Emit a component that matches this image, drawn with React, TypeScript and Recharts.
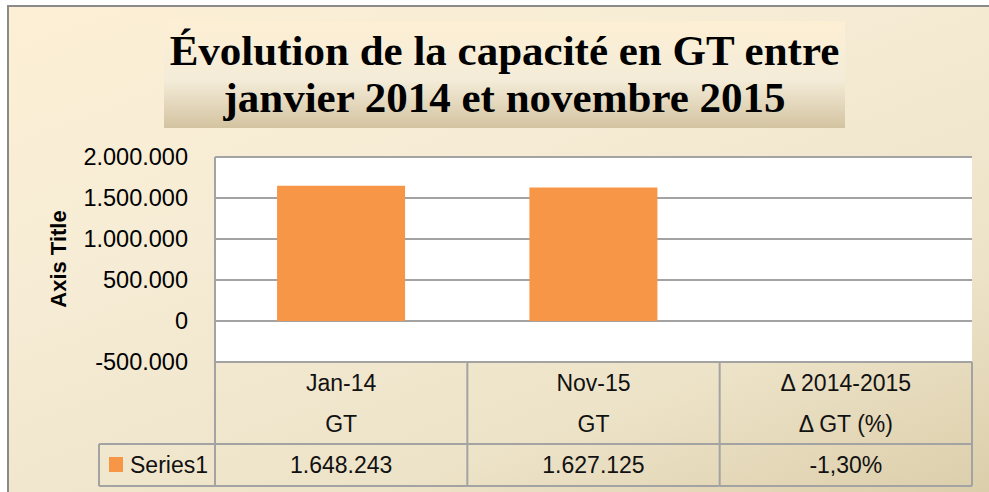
import { Bar, BarChart, CartesianGrid, Customized, XAxis, YAxis } from "recharts";

// chart values
const categories = ["Jan-14", "Nov-15", "Δ 2014-2015"];
const units = ["GT", "GT", "Δ GT (%)"];
const series1 = [1648243, 1627125, -0.013];
const yTicks = [-500000, 0, 500000, 1000000, 1500000, 2000000];
const seriesName = "Series1";
const axisTitle = "Axis Title";
const titleLines = ["Évolution de la capacité en GT entre", "janvier 2014 et novembre 2015"];

const data = categories.map((name, i) => ({ name, value: series1[i] }));

const W = 989;
const H = 492;
const M = { top: 157, right: 17, bottom: 6, left: 0 };
const Y_AXIS_W = 215;
const X_AXIS_H = 124;
const PLOT_W = W - M.left - M.right - Y_AXIS_W;
const TABLE_TOP = H - M.bottom - X_AXIS_H;
const ROW_MID = 444;
const TABLE_BOTTOM = 486;
const LEGEND_LEFT = 99;

const GRID = "#a3a3a3";
const ORANGE = "#F79646";
const FONT = "'Liberation Sans', Arial, sans-serif";
const FS = 23;

const dots = (n: number) => Math.round(n).toString().replace(/\B(?=(\d{3})+(?!\d))/g, ".");

const cellText = (i: number) =>
  units[i].includes("%")
    ? (series1[i] * 100).toFixed(2).replace(".", ",") + "%"
    : dots(series1[i]);

function TableTick(props: any) {
  const { x, payload } = props;
  const i = categories.indexOf(payload.value);
  const half = PLOT_W / categories.length / 2;
  const l = x - half;
  const r = x + half;
  const txt = { fontFamily: FONT, fontSize: FS, fill: "#111", textAnchor: "middle" as const, dominantBaseline: "central" as const };
  return (
    <g>
      <line x1={l} x2={r} y1={TABLE_TOP} y2={TABLE_TOP} stroke={GRID} strokeWidth={2} />
      <line x1={l} x2={r} y1={ROW_MID} y2={ROW_MID} stroke={GRID} strokeWidth={2} />
      <line x1={l} x2={r} y1={TABLE_BOTTOM} y2={TABLE_BOTTOM} stroke={GRID} strokeWidth={2} />
      <line x1={r} x2={r} y1={TABLE_TOP} y2={TABLE_BOTTOM} stroke={GRID} strokeWidth={2} />
      {i === 0 && (
        <g>
          <line x1={l} x2={l} y1={TABLE_TOP} y2={TABLE_BOTTOM} stroke={GRID} strokeWidth={2} />
          <line x1={LEGEND_LEFT} x2={l} y1={ROW_MID} y2={ROW_MID} stroke={GRID} strokeWidth={2} />
          <line x1={LEGEND_LEFT} x2={l} y1={TABLE_BOTTOM} y2={TABLE_BOTTOM} stroke={GRID} strokeWidth={2} />
          <line x1={LEGEND_LEFT} x2={LEGEND_LEFT} y1={ROW_MID} y2={TABLE_BOTTOM} stroke={GRID} strokeWidth={2} />
          <rect x={109} y={457} width={14} height={15} fill={ORANGE} />
          <text {...txt} x={130} y={465} textAnchor="start">
            {seriesName}
          </text>
        </g>
      )}
      <text {...txt} x={x} y={383}>
        {payload.value}
      </text>
      <text {...txt} x={x} y={424}>
        {units[i]}
      </text>
      <text {...txt} x={x} y={465}>
        {cellText(i)}
      </text>
    </g>
  );
}

function Decor() {
  return (
    <g>
      <defs>
        <linearGradient id="titleFill" x1="0" y1="0" x2="0" y2="1">
          <stop offset="0%" stopColor="#fdefd4" />
          <stop offset="55%" stopColor="#f4ecd9" />
          <stop offset="100%" stopColor="#d3c3a0" />
        </linearGradient>
      </defs>
      <rect x={164} y={21} width={681} height={107} fill="url(#titleFill)" />
      {titleLines.map((t, i) => (
        <text
          key={t}
          x={504.5}
          y={65 + i * 47}
          textAnchor="middle"
          fontFamily="'Liberation Serif', 'Times New Roman', serif"
          fontWeight="bold"
          fontSize={43}
          fill="#000"
        >
          {t}
        </text>
      ))}
      <text
        x={58}
        y={259}
        transform="rotate(-90, 58, 259)"
        textAnchor="middle"
        dominantBaseline="central"
        fontFamily={FONT}
        fontWeight="bold"
        fontSize={22}
        fill="#000"
      >
        {axisTitle}
      </text>
    </g>
  );
}

export default function App() {
  return (
    <div style={{ position: "relative", width: W, height: H, background: "#fff", overflow: "hidden" }}>
      <style>{"body{margin:0}"}</style>
      <div
        style={{
          position: "absolute",
          left: 7,
          top: 5,
          width: 1000,
          height: 520,
          border: "2px solid #8a8a8a",
          background: "linear-gradient(160deg, #fcefd5 0%, #f6ecd5 35%, #ede3c8 70%, #d8caa5 100%)",
        }}
      />
      <div style={{ position: "absolute", left: 0, top: 0 }}>
        <BarChart width={W} height={H} data={data} margin={M} barCategoryGap="24.6%">
          <CartesianGrid vertical={false} horizontal stroke={GRID} strokeWidth={2} fill="#fff" />
          <XAxis
            dataKey="name"
            height={X_AXIS_H}
            axisLine={false}
            tickLine={false}
            interval={0}
            tick={<TableTick />}
          />
          <YAxis
            width={Y_AXIS_W}
            domain={[-500000, 2000000]}
            ticks={yTicks}
            tickFormatter={dots}
            axisLine={{ stroke: GRID, strokeWidth: 2 }}
            tickLine={false}
            tickMargin={21}
            tick={{ fill: "#000", fontSize: 23.5, fontFamily: FONT }}
            allowDataOverflow
          />
          <Bar dataKey="value" fill={ORANGE} isAnimationActive={false} />
          <Customized component={<Decor />} />
        </BarChart>
      </div>
    </div>
  );
}
